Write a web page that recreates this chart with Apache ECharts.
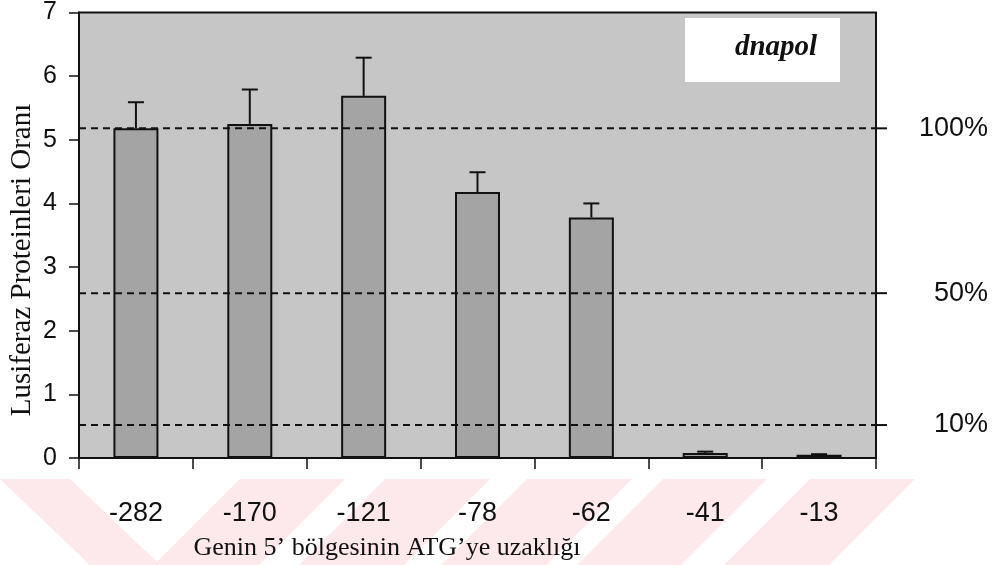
<!DOCTYPE html>
<html><head><meta charset="utf-8">
<script src="https://cdn.jsdelivr.net/npm/echarts@6/dist/echarts.min.js"></script>
<style>html,body{margin:0;padding:0;background:#fff}#c{width:1008px;height:565px}</style>
</head><body><div id="c"></div>
<script>
const categories = ['-282', '-170', '-121', '-78', '-62', '-41', '-13'];
const values = [5.18, 5.25, 5.69, 4.18, 3.78, 0.08, 0.05];
const errors = [0.41, 0.54, 0.60, 0.31, 0.22, 0.02, 0.01];
const refValues = [5.18, 2.59, 0.518];
const refLabels = ['100%', '50%', '10%'];
const yTicks = [0, 1, 2, 3, 4, 5, 6, 7];
const xTitle = 'Genin 5\u2019 bölgesinin ATG\u2019ye uzaklığı';
const yTitle = 'Lusiferaz Proteinleri Oranı';
const tag = 'dnapol';

const SANS = 'Liberation Sans';
const SERIF = 'Liberation Serif';

const chart = echarts.init(document.getElementById('c'));

// watermark stripes (decorative background)
const wmColor = '#fde8eb';
const wm = [];
wm.push([[0,479],[70,479],[160,565],[90,565]]);
[[240,345],[385,490],[527,632],[663,767],[810,915]].forEach(r => {
  wm.push([[r[0],479],[r[1],479],[r[1]-86,565],[r[0]-86,565]]);
});

const option = {
  animation: false,
  backgroundColor: '#fff',
  grid: {
    left: 79, right: 132, top: 12, bottom: 107,
    show: true, backgroundColor: '#c6c6c6', borderColor: '#111', borderWidth: 2
  },
  xAxis: {
    type: 'category',
    data: categories,
    axisLine: { lineStyle: { color: '#111', width: 2 } },
    axisTick: { show: true, length: 11, lineStyle: { color: '#111', width: 1.5 } },
    axisLabel: { fontFamily: SANS, fontSize: 27, color: '#111', margin: 42 },
    splitLine: { show: false }
  },
  yAxis: {
    type: 'value',
    min: yTicks[0], max: yTicks[yTicks.length - 1], interval: 1,
    axisLine: { show: true, lineStyle: { color: '#111', width: 2 } },
    axisTick: { show: true, length: 10, lineStyle: { color: '#111', width: 1.5 } },
    axisLabel: { fontFamily: SANS, fontSize: 25, color: '#111', margin: 22 },
    splitLine: { show: false }
  },
  graphic: [
    ...wm.map(p => ({ type: 'polygon', z: -10, silent: true, shape: { points: p }, style: { fill: wmColor } })),
    { type: 'rect', z: 50, shape: { x: 685, y: 18, width: 155, height: 64 }, style: { fill: '#fff' } },
    { type: 'text', z: 51, x: 776, y: 48, style: { text: tag, fontFamily: SERIF, fontStyle: 'italic', fontWeight: 'bold', fontSize: 29, fill: '#111', align: 'center', verticalAlign: 'middle' } },
    { type: 'text', z: 51, x: 387, y: 548, style: { text: xTitle, fontFamily: SERIF, fontSize: 26, fill: '#111', align: 'center', verticalAlign: 'middle' } },
    { type: 'text', z: 51, x: 22, y: 260, rotation: Math.PI / 2, style: { text: yTitle, fontFamily: SERIF, fontSize: 29, fill: '#111', align: 'center', verticalAlign: 'middle' } }
  ],
  series: [
    {
      type: 'bar',
      data: values,
      barWidth: 45,
      itemStyle: { color: '#a4a4a4', borderColor: '#111', borderWidth: 2 },
      z: 2
    },
    {
      type: 'custom',
      z: 3,
      data: values.map((v, i) => [i, v, errors[i]]),
      renderItem: function (params, api) {
        const x = api.value(0), v = api.value(1), e = api.value(2);
        const p0 = api.coord([x, v]);
        const p1 = api.coord([x, v + e]);
        const cw = 8;
        return {
          type: 'group',
          children: [
            { type: 'line', shape: { x1: p0[0], y1: p0[1], x2: p1[0], y2: p1[1] }, style: { stroke: '#111', lineWidth: 2 } },
            { type: 'line', shape: { x1: p1[0] - cw, y1: p1[1], x2: p1[0] + cw, y2: p1[1] }, style: { stroke: '#111', lineWidth: 2 } }
          ]
        };
      }
    },
    {
      type: 'custom',
      z: 4,
      clip: false,
      data: refValues.map((v, i) => [0, v, i]),
      renderItem: function (params, api) {
        const v = api.value(1), idx = api.value(2);
        const cs = params.coordSys;
        const y = api.coord([0, v])[1];
        const xr = cs.x + cs.width;
        return {
          type: 'group',
          children: [
            { type: 'line', shape: { x1: cs.x, y1: y, x2: xr, y2: y }, style: { stroke: '#111', lineWidth: 2, lineDash: [7, 5] } },
            { type: 'line', shape: { x1: xr, y1: y, x2: xr + 11, y2: y }, style: { stroke: '#111', lineWidth: 2 } },
            { type: 'text', x: xr + 112, y: y, style: { text: refLabels[idx], fontFamily: SANS, fontSize: 27, fill: '#111', align: 'right', verticalAlign: 'middle' } }
          ]
        };
      }
    }
  ]
};
chart.setOption(option);
</script>
</body></html>
